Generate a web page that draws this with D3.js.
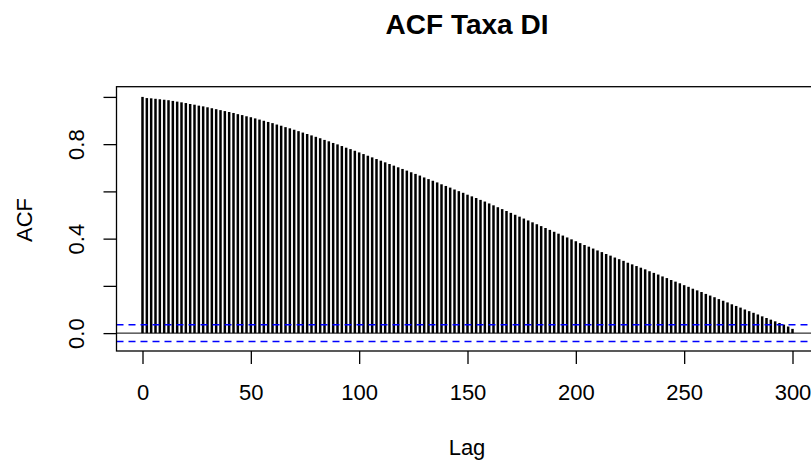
<!DOCTYPE html>
<html>
<head>
<meta charset="utf-8">
<script src="https://cdn.jsdelivr.net/npm/d3@7"></script>
<style>
  body { margin: 0; background: #fff; }
  text { font-family: "Liberation Sans", Arial, sans-serif; fill: #000; }
</style>
</head>
<body>
<svg width="811" height="461"></svg>
<script>
// ACF values, one bar every 2 lags (0..300)
var lags = d3.range(0, 301, 2)
var acfValues = [
  1.000, 0.995, 0.994, 0.992, 0.990, 0.988, 0.986, 0.983, 0.980, 0.977,
  0.974, 0.970, 0.967, 0.963, 0.960, 0.956, 0.952, 0.948, 0.944, 0.940,
  0.936, 0.932, 0.927, 0.923, 0.918, 0.914, 0.909, 0.904, 0.899, 0.894,
  0.889, 0.883, 0.878, 0.872, 0.867, 0.861, 0.855, 0.849, 0.843, 0.837,
  0.831, 0.825, 0.818, 0.812, 0.805, 0.799, 0.792, 0.785, 0.779, 0.772,
  0.765, 0.758, 0.751, 0.744, 0.737, 0.730, 0.723, 0.716, 0.709, 0.702,
  0.695, 0.688, 0.681, 0.674, 0.667, 0.659, 0.652, 0.645, 0.638, 0.630,
  0.623, 0.616, 0.608, 0.601, 0.594, 0.586, 0.579, 0.572, 0.564, 0.557,
  0.549, 0.541, 0.533, 0.525, 0.517, 0.509, 0.501, 0.493, 0.485, 0.477,
  0.469, 0.461, 0.453, 0.445, 0.437, 0.429, 0.421, 0.413, 0.405, 0.397,
  0.389, 0.381, 0.373, 0.366, 0.358, 0.350, 0.343, 0.335, 0.328, 0.320,
  0.313, 0.306, 0.298, 0.291, 0.284, 0.277, 0.270, 0.262, 0.255, 0.248,
  0.240, 0.233, 0.225, 0.218, 0.211, 0.203, 0.196, 0.188, 0.181, 0.174,
  0.166, 0.159, 0.152, 0.144, 0.137, 0.130, 0.122, 0.115, 0.108, 0.100,
  0.093, 0.086, 0.079, 0.071, 0.064, 0.057, 0.050, 0.043, 0.036, 0.028,
  0.018
]
var confLimit = 0.035
var xTicks = [0, 50, 100, 150, 200, 250, 300]
var yTicks = [0, 0.2, 0.4, 0.6, 0.8, 1.0]
var yTickLabels = { 0: "0.0", 0.4: "0.4", 0.8: "0.8" }

var svg = d3.select("svg")

// plot region (right edge runs past the window, as in the picture)
var plotLeft = 116.5, plotRight = 818.5, plotTop = 86.7, plotBottom = 351

var x = d3.scaleLinear().domain([-12, 312]).range([plotLeft, plotRight])
var y = d3.scaleLinear().domain([-0.0757, 1.0432]).range([plotBottom, plotTop])

// zero line
svg.append("line")
    .attr("x1", plotLeft).attr("x2", plotRight)
    .attr("y1", y(0)).attr("y2", y(0))
    .attr("stroke", "#000").attr("stroke-width", 1)

// bars
svg.append("g")
    .selectAll("line")
    .data(lags)
    .enter().append("line")
    .attr("x1", function(d) { return x(d) })
    .attr("x2", function(d) { return x(d) })
    .attr("y1", y(0))
    .attr("y2", function(d, i) { return y(acfValues[i]) })
    .attr("stroke", "#000")
    .attr("stroke-width", 2.5)

// confidence limits
;[confLimit, -confLimit].forEach(function(c) {
  svg.append("line")
      .attr("x1", plotLeft).attr("x2", plotRight)
      .attr("y1", y(c)).attr("y2", y(c))
      .attr("stroke", "#0000ff")
      .attr("stroke-width", 1.5)
      .attr("stroke-dasharray", "7,5")
})

// box
svg.append("rect")
    .attr("x", plotLeft).attr("y", plotTop)
    .attr("width", plotRight - plotLeft).attr("height", plotBottom - plotTop)
    .attr("fill", "none").attr("stroke", "#000").attr("stroke-width", 1.3)

// x axis
var xAxis = d3.axisBottom(x).tickValues(xTicks).tickSize(13)
var gx = svg.append("g")
    .attr("transform", "translate(0," + plotBottom + ")")
    .call(xAxis)
gx.select(".domain").remove()
gx.selectAll(".tick line").attr("stroke-width", 1.3)
gx.selectAll(".tick text")
    .attr("dy", null).attr("y", 49)
    .style("font-size", "22px")
    .style("font-family", "Liberation Sans, Arial, sans-serif")

// y axis
var yAxis = d3.axisLeft(y).tickValues(yTicks).tickSize(13)
    .tickFormat(function(d) { return yTickLabels[d] || "" })
var gy = svg.append("g")
    .attr("transform", "translate(" + plotLeft + ",0)")
    .call(yAxis)
gy.select(".domain").remove()
gy.selectAll(".tick line").attr("stroke-width", 1.3)
gy.selectAll(".tick text")
    .attr("x", null).attr("dy", null)
    .attr("transform", "translate(-33,0) rotate(-90)")
    .style("text-anchor", "middle")
    .style("font-size", "22px")
    .style("font-family", "Liberation Sans, Arial, sans-serif")

// title and axis labels
svg.append("text")
    .attr("x", 467).attr("y", 34)
    .attr("text-anchor", "middle")
    .style("font-size", "28px").style("font-weight", "bold")
    .text("ACF Taxa DI")

svg.append("text")
    .attr("x", 467).attr("y", 455)
    .attr("text-anchor", "middle")
    .style("font-size", "22px")
    .text("Lag")

svg.append("text")
    .attr("transform", "translate(31.5,220) rotate(-90)")
    .attr("text-anchor", "middle")
    .style("font-size", "22px")
    .text("ACF")
</script>
</body>
</html>
